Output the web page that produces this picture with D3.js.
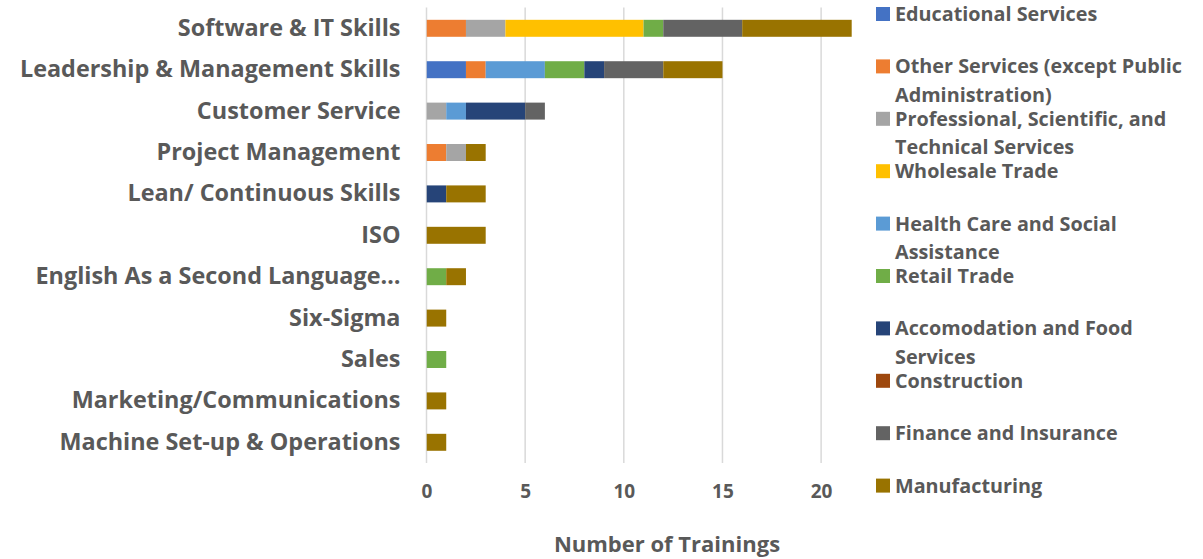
<!DOCTYPE html>
<html>
<head>
<meta charset="utf-8">
<script src="https://cdn.jsdelivr.net/npm/d3@7"></script>
<style>
  body { margin: 0; background: #fff; }
  svg { display: block; font-family: "Open Sans", sans-serif; font-weight: bold; }
  .catLabel { font-size: 23.4px; fill: #595959; }
  .tickLabel { font-size: 19px; fill: #595959; }
  .legendText { font-size: 19.8px; fill: #595959; }
</style>
</head>
<body>
<svg id="chart" width="1203" height="559"></svg>
<script>
const categories = [
  'Software & IT Skills',
  'Leadership & Management Skills',
  'Customer Service',
  'Project Management',
  'Lean/ Continuous Skills',
  'ISO',
  'English As a Second Language…',
  'Six-Sigma',
  'Sales',
  'Marketing/Communications',
  'Machine Set-up & Operations'
];

const industries = [
  'Educational Services',
  'Other Services (except Public Administration)',
  'Professional, Scientific, and Technical Services',
  'Wholesale Trade',
  'Health Care and Social Assistance',
  'Retail Trade',
  'Accomodation and Food Services',
  'Construction',
  'Finance and Insurance',
  'Manufacturing'
];

const educational    = [0, 2, 0, 0, 0, 0, 0, 0, 0, 0, 0];
const otherServices  = [2, 1, 0, 1, 0, 0, 0, 0, 0, 0, 0];
const professional   = [2, 0, 1, 1, 0, 0, 0, 0, 0, 0, 0];
const wholesale      = [7, 0, 0, 0, 0, 0, 0, 0, 0, 0, 0];
const healthCare     = [0, 3, 1, 0, 0, 0, 0, 0, 0, 0, 0];
const retail         = [1, 2, 0, 0, 0, 0, 1, 0, 1, 0, 0];
const accomodation   = [0, 1, 3, 0, 1, 0, 0, 0, 0, 0, 0];
const construction   = [0, 0, 0, 0, 0, 0, 0, 0, 0, 0, 0];
const finance        = [4, 3, 1, 0, 0, 0, 0, 0, 0, 0, 0];
const manufacturing  = [6, 3, 0, 1, 2, 3, 1, 1, 0, 1, 1];

const xTicks = [0, 5, 10, 15, 20];
const xMax = 21.55;

const seriesValues = [educational, otherServices, professional, wholesale, healthCare,
  retail, accomodation, construction, finance, manufacturing];
const colors = ['#4472C4', '#ED7D31', '#A5A5A5', '#FFC000', '#5B9BD5',
  '#70AD47', '#264478', '#9E480E', '#636363', '#997300'];

const table = categories.map((c, i) => {
  const row = { category: c };
  industries.forEach((ind, j) => { row[ind] = seriesValues[j][i]; });
  return row;
});

const svg = d3.select('#chart');

const plotLeft = 426.5;
const plotRight = 851.7;
const plotTop = 7.6;
const plotBottom = 463;

const xscale = d3.scaleLinear()
  .domain([0, xMax])
  .range([plotLeft, plotRight]);

const yscale = d3.scaleBand()
  .domain(categories)
  .range([plotTop, plotBottom])
  .paddingInner(0.59)
  .paddingOuter(0.295);

const color = d3.scaleOrdinal()
  .domain(industries)
  .range(colors);

// gridlines
svg.append('g')
  .selectAll('line')
  .data(xTicks)
  .enter()
  .append('line')
  .attr('x1', (d) => xscale(d))
  .attr('x2', (d) => xscale(d))
  .attr('y1', plotTop)
  .attr('y2', plotBottom)
  .attr('stroke', '#d9d9d9')
  .attr('stroke-width', 1.5);

// tick labels
const bottomAxis = d3.axisBottom(xscale)
  .tickValues(xTicks)
  .tickSize(0)
  .tickPadding(22);
const xAxisG = svg.append('g')
  .attr('transform', `translate(0, ${plotBottom})`)
  .call(bottomAxis);
xAxisG.select('.domain').remove();
xAxisG.attr('font-family', null).attr('font-size', null);
xAxisG.selectAll('text')
  .attr('class', 'tickLabel')
  .attr('fill', null);

// category labels
const leftAxis = d3.axisLeft(yscale)
  .tickSize(0)
  .tickPadding(26);
const yAxisG = svg.append('g')
  .attr('transform', `translate(${plotLeft}, 0)`)
  .call(leftAxis);
yAxisG.select('.domain').remove();
yAxisG.attr('font-family', null).attr('font-size', null);
yAxisG.selectAll('text')
  .attr('class', 'catLabel')
  .attr('fill', null);

// stacked bars
svg.append('clipPath')
  .attr('id', 'plotClip')
  .append('rect')
  .attr('x', plotLeft)
  .attr('y', plotTop)
  .attr('width', plotRight - plotLeft)
  .attr('height', plotBottom - plotTop);

const stacked = d3.stack().keys(industries)(table);

svg.append('g')
  .attr('clip-path', 'url(#plotClip)')
  .selectAll('g')
  .data(stacked)
  .enter()
  .append('g')
  .attr('fill', (d) => color(d.key))
  .selectAll('rect')
  .data((d) => d.filter((p) => p[1] > p[0]))
  .enter()
  .append('rect')
  .attr('x', (d) => xscale(d[0]))
  .attr('y', (d) => yscale(d.data.category))
  .attr('width', (d) => xscale(d[1]) - xscale(d[0]))
  .attr('height', yscale.bandwidth());

// axis title
svg.append('text')
  .text('Number of Trainings')
  .attr('x', 667)
  .attr('y', 552)
  .attr('text-anchor', 'middle')
  .attr('font-size', '22px')
  .attr('fill', '#595959');

// legend
const legendX = 876;
const legendTop = 14;
const legendStep = 52.4;
const lineHeight = 28.5;
const maxTextWidth = 298;

const legend = svg.append('g');
industries.forEach((name, i) => {
  const cy = legendTop + i * legendStep;
  legend.append('rect')
    .attr('x', legendX)
    .attr('y', cy - 7)
    .attr('width', 14)
    .attr('height', 14)
    .attr('fill', color(name));

  const text = legend.append('text')
    .attr('class', 'legendText')
    .attr('x', legendX + 19)
    .attr('y', cy)
    .attr('dy', '0.35em');

  const words = name.split(' ');
  let line = [];
  let tspan = text.append('tspan').attr('x', legendX + 19);
  let lineNo = 0;
  words.forEach((w) => {
    line.push(w);
    tspan.text(line.join(' '));
    if (tspan.node().getComputedTextLength() > maxTextWidth && line.length > 1) {
      line.pop();
      tspan.text(line.join(' '));
      line = [w];
      lineNo += 1;
      tspan = text.append('tspan')
        .attr('x', legendX + 19)
        .attr('y', cy + lineNo * lineHeight)
        .attr('dy', '0.35em')
        .text(w);
    }
  });
});
</script>
</body>
</html>
